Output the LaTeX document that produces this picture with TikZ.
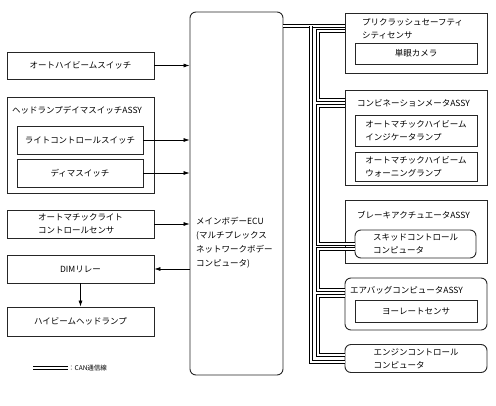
\documentclass[tikz,border=0pt]{standalone}
\usepackage{fontspec}
\setmainfont{Noto Sans CJK JP}
\usetikzlibrary{arrows.meta}

\begin{document}
\begin{tikzpicture}[x=1pt, y=-1pt,
    txt/.style={font=\fontsize{8.5}{13}\selectfont, inner sep=0pt},
    box/.style={draw=black!85, line width=0.9pt, txt, align=left},
    rbox/.style={box, rounded corners=6pt},
    arr/.style={line width=0.6pt, -{Latex[length=6pt, width=4pt]}},
    can/.style={double, double distance=1.5pt, line width=1.25pt}]
            \useasboundingbox (0,0) rectangle (496,405);

            \node[box, minimum width=147pt, minimum height=27pt] (ahbs) at (80.5,65.5) {オートハイビームスイッチ};
            \node[box, minimum width=147pt, minimum height=96pt] (hdsw) at (80.5,145) {};
            \node[txt, anchor=west] (hdswt) at (12,110) {ヘッドランプデイマスイッチASSY};
            \node[box, minimum width=126pt, minimum height=28pt] (lcsw) at (80,140) {ライトコントロールスイッチ};
            \node[box, minimum width=126pt, minimum height=28pt] (dmsw) at (80,173) {ディマスイッチ};
            \node[box, minimum width=147pt, minimum height=28pt] (alcs) at (80.5,224) {オートマチックライト\\コントロールセンサ};
            \node[box, minimum width=147pt, minimum height=28pt] (dimr) at (80.5,269) {DIMリレー};
            \node[box, minimum width=147pt, minimum height=29pt] (hbhl) at (80.5,321.5) {ハイビームヘッドランプ};

            \node[rbox, minimum width=93pt, minimum height=363pt] (ecu) at (236.5,193.5) {};
            \node[txt, anchor=west, align=left, font=\fontsize{8.5}{14}\selectfont] (ecut) at (196,243) {メインボデーECU\\(マルチプレックス\\ネットワークボデー\\コンピュータ)};

            \node[box, minimum width=142pt, minimum height=60pt] (pcs) at (416,43) {};
            \node[txt, anchor=west, align=left] (pcst) at (362,28.5) {プリクラッシュセーフティ\\シティセンサ};
            \node[box, minimum width=122pt, minimum height=21pt] (cam) at (416,53.5) {単眼カメラ};

            \node[box, minimum width=142pt, minimum height=95pt] (cmb) at (416,137.5) {};
            \node[txt, anchor=west] (cmbt) at (357,103) {コンビネーションメータASSY};
            \node[box, minimum width=122pt, minimum height=31pt] (aihi) at (416,130.5) {オートマチックハイビーム\\インジケータランプ};
            \node[box, minimum width=122pt, minimum height=29pt] (aihw) at (416,166.5) {オートマチックハイビーム\\ウォーニングランプ};

            \node[box, minimum width=142pt, minimum height=63pt] (bka) at (416,231.5) {};
            \node[txt, anchor=west] (bkat) at (357,215) {ブレーキアクチュエータASSY};
            \node[rbox, minimum width=121pt, minimum height=28pt] (skid) at (415.5,244) {スキッドコントロール\\コンピュータ};

            \node[rbox, minimum width=142pt, minimum height=52pt] (abg) at (416,304) {};
            \node[txt, anchor=west] (abgt) at (350,290) {エアバッグコンピュータASSY};
            \node[box, minimum width=122pt, minimum height=22pt] (yaw) at (416,311) {ヨーレートセンサ};

            \node[rbox, minimum width=142pt, minimum height=28pt] (eng) at (416,358.5) {エンジンコントロール\\コンピュータ};

            \draw[arr] (ahbs) -- (ahbs -| ecu.west);
            \draw[arr] (lcsw) -- (lcsw -| ecu.west);
            \draw[arr] (dmsw) -- (dmsw -| ecu.west);
            \draw[arr] (alcs) -- (alcs -| ecu.west);
            \draw[arr] (dimr -| ecu.west) -- (dimr);
            \draw[arr] (dimr) -- (hbhl);

            \draw[can] (ecu.east |- 0,26) -- (pcs.west |- 0,26);
            \draw[can] (311,26) -- (311,362) -- (eng.west |- 0,362);
            \draw[can] (pcs.west |- 0,31) -- (318,31) -- (318,100) -- (cmb.west |- 0,100);
            \draw[can] (cmb.west |- 0,106) -- (318,106) -- (318,244) -- (skid.west);
            \draw[can] (skid.west |- 0,249) -- (318,249) -- (318,290) -- (abg.west |- 0,290);
            \draw[can] (abg.west |- 0,296) -- (318,296) -- (318,355) -- (eng.west |- 0,355);

            \node[txt, anchor=west, font=\fontsize{6.5}{8}\selectfont] (legt) at (68,368) {：CAN通信線};
            \coordinate (leg) at (33,368);
            \draw[can] (leg) -- (legt.west);
        \end{tikzpicture}
\end{document}
